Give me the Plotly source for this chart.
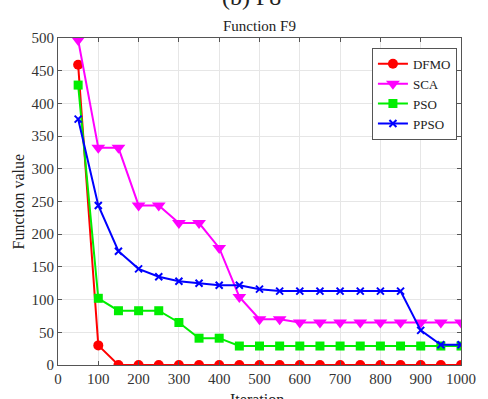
import plotly.graph_objects as go

iterations = list(range(50, 1001, 50))
dfmo = [459, 30, 0, 0, 0, 0, 0, 0, 0, 0, 0, 0, 0, 0, 0, 0, 0, 0, 0, 0]
sca = [497, 332, 332, 244, 244, 217, 217, 179, 104, 70, 70, 65, 65, 65, 65, 65, 65, 65, 65, 65]
pso = [428, 102, 83, 83, 83, 65, 41, 41, 29, 29, 29, 29, 29, 29, 29, 29, 29, 29, 29, 29]
ppso = [376, 244, 174, 147, 135, 128, 125, 122, 122, 116, 113, 113, 113, 113, 113, 113, 113, 53, 31, 31]

font = "Times New Roman, Liberation Serif, serif"
fig = go.Figure()
fig.add_trace(go.Scatter(x=iterations, y=dfmo, name="DFMO", mode="lines+markers",
                         line=dict(color="#ff0000", width=2),
                         marker=dict(symbol="circle", size=10, color="#ff0000")))
fig.add_trace(go.Scatter(x=iterations, y=sca, name="SCA", mode="lines+markers",
                         line=dict(color="#ff00ff", width=2),
                         marker=dict(symbol="triangle-down", size=12, color="#ff00ff")))
fig.add_trace(go.Scatter(x=iterations, y=pso, name="PSO", mode="lines+markers",
                         line=dict(color="#00ee00", width=2),
                         marker=dict(symbol="square", size=9, color="#00ee00")))
fig.add_trace(go.Scatter(x=iterations, y=ppso, name="PPSO", mode="lines+markers",
                         line=dict(color="#0000ff", width=2),
                         marker=dict(symbol="x-thin", size=7, color="#0000ff",
                                     line=dict(color="#0000ff", width=2))))

axis_common = dict(showgrid=True, gridcolor="#e6e6e6", gridwidth=1,
                   showline=True, linecolor="#555555", linewidth=1, mirror="ticks",
                   ticks="inside", ticklen=4, tickcolor="#555555",
                   ticklabeloverflow="allow",
                   tickfont=dict(family=font, size=15, color="#333333"), zeroline=False)
fig.update_xaxes(range=[0, 1000], tickvals=list(range(0, 1001, 100)), **axis_common)
fig.update_yaxes(range=[0, 500], tickvals=list(range(0, 501, 50)), **axis_common)

fig.update_layout(
    width=488, height=399,
    margin=dict(l=58, r=13, t=38, b=33),
    plot_bgcolor="white", paper_bgcolor="white",
    showlegend=True,
    legend=dict(x=0.779, y=0.97, xanchor="left", yanchor="top",
                bgcolor="white", bordercolor="#555555", borderwidth=1,
                font=dict(family=font, size=13, color="#222222"),
                tracegroupgap=0, itemwidth=30),
    annotations=[
        dict(text="Function F9", x=0.5, y=1.0, xref="paper", yref="paper",
             xanchor="center", yanchor="bottom", yshift=2, showarrow=False,
             font=dict(family=font, size=15, color="#222222")),
        dict(text="(b) F8", x=0.48, y=1.125, xref="paper", yref="paper",
             xanchor="center", yanchor="middle", showarrow=False,
             font=dict(family=font, size=24, color="#222222")),
        dict(text="Function value", x=-0.097, y=0.5, xref="paper", yref="paper",
             xanchor="center", yanchor="middle", textangle=-90, showarrow=False,
             font=dict(family=font, size=16, color="#222222")),
        dict(text="Iteration", x=0.495, y=-0.107, xref="paper", yref="paper",
             xanchor="center", yanchor="middle", showarrow=False,
             font=dict(family=font, size=16, color="#222222")),
    ],
)
fig.write_html("out.html")
